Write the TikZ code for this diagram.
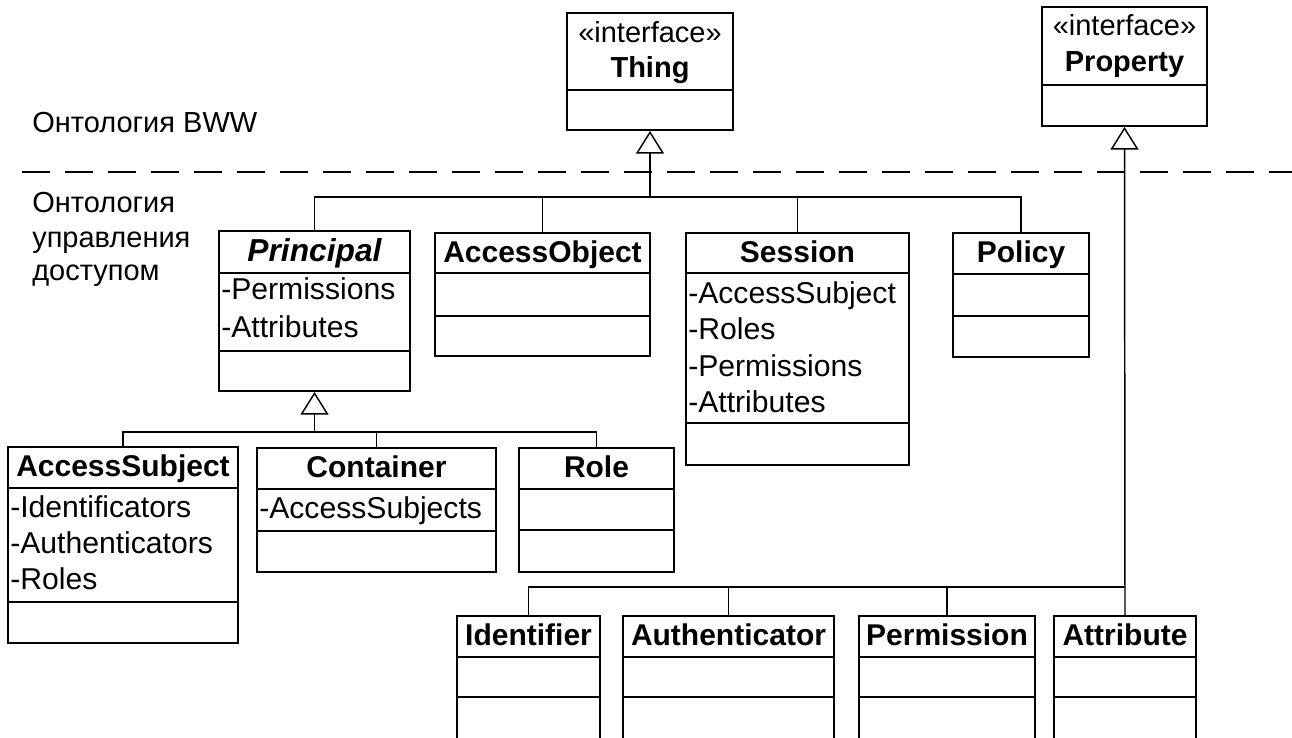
\documentclass[tikz,border=0pt]{standalone}
\usepackage{fontspec}
\setmainfont{Liberation Sans}
\usetikzlibrary{arrows.meta,fit}
\newcommand\umlclass[7]{%
  \node[clsbox, fit={(#2,#3) (#4,#5)}] (#1) {};
  \draw[divline] (#2,#6) -- (#4,#6) (#2,#7) -- (#4,#7);}
\tikzset{
  txt/.style={font=\fontsize{21.75}{26}\selectfont, inner sep=0pt},
  clsbox/.style={draw, line width=1.4pt, inner sep=0pt},
  divline/.style={line width=1.4pt},
  ttl/.style={txt, font=\fontsize{22.5}{27}\selectfont\bfseries, anchor=base},
  attr/.style={txt, font=\fontsize{22.6}{27}\selectfont, anchor=base west},
  lbl/.style={txt, anchor=base west},
  conn/.style={line width=1.1pt},
  gen/.style={conn, -{Triangle[open, length=17pt, width=21pt, line width=1.1pt]}},
  sep/.style={line width=1.1pt, dash pattern=on 21pt off 11.25pt}
}
\begin{document}
\begin{tikzpicture}[x=0.75pt, y=-0.75pt]
\useasboundingbox (0,0) rectangle (1292,738);
\clip (0,0) rectangle (1292,738);

% layer labels and separator
\node[lbl] (l1) at (32,133) {Онтология BWW};
\node[lbl] (l2) at (32,213) {Онтология};
\node[lbl] (l3) at (32,247) {управления};
\node[lbl] (l4) at (32,280) {доступом};
\coordinate (sepA) at (22,172);
\coordinate (sepB) at (1292,172);
\draw[sep] (sepA) -- (sepB);

% interfaces
\umlclass{thing}{567}{13}{733}{130}{90}{90}
\node[txt, anchor=base] (thing-s) at (650,43) {«interface»};
\node[ttl, font=\fontsize{21.75}{26}\selectfont\bfseries] (thing-t) at (650,78) {Thing};
\umlclass{property}{1042}{7}{1207}{126}{85}{85}
\node[txt, anchor=base] (property-s) at (1124.5,36) {«interface»};
\node[ttl, font=\fontsize{21.75}{26}\selectfont\bfseries] (property-t) at (1124.5,72) {Property};

% access control classes
\umlclass{principal}{219}{231}{410}{391}{273}{351}
\node[ttl, font=\fontsize{23.8}{28}\selectfont\bfseries\itshape] (principal-t) at (314.5,261) {Principal};
\node[attr] (principal-a1) at (221,299) {-Permissions};
\node[attr] (principal-a2) at (221,337) {-Attributes};

\umlclass{accessobject}{435}{233}{650}{356}{273}{316}
\node[ttl] (accessobject-t) at (542.5,262) {AccessObject};

\umlclass{session}{686}{233}{909}{465}{273}{423}
\node[ttl] (session-t) at (797.5,262) {Session};
\node[attr] (session-a1) at (688,303) {-AccessSubject};
\node[attr] (session-a2) at (688,339) {-Roles};
\node[attr] (session-a3) at (688,376) {-Permissions};
\node[attr] (session-a4) at (688,412) {-Attributes};

\umlclass{policy}{953}{233}{1089}{357}{274}{316}
\node[ttl] (policy-t) at (1021,262) {Policy};

\umlclass{accesssubject}{8}{447}{238}{643}{488}{602}
\node[ttl] (accesssubject-t) at (123,476) {AccessSubject};
\node[attr] (accesssubject-a1) at (10,517) {-Identificators};
\node[attr] (accesssubject-a2) at (10,553) {-Authenticators};
\node[attr] (accesssubject-a3) at (10,589) {-Roles};

\umlclass{container}{257}{448}{496}{572}{489}{531}
\node[ttl] (container-t) at (376.5,477) {Container};
\node[attr] (container-a1) at (259,518) {-AccessSubjects};

\umlclass{role}{519}{448}{674}{572}{489}{530}
\node[ttl] (role-t) at (596.5,477) {Role};

\umlclass{identifier}{457}{616}{600}{770}{657}{697}
\node[ttl] (identifier-t) at (528.5,645) {Identifier};
\umlclass{authenticator}{623}{616}{834}{770}{657}{697}
\node[ttl] (authenticator-t) at (728.5,645) {Authenticator};
\umlclass{permission}{859}{616}{1035}{770}{657}{697}
\node[ttl] (permission-t) at (947,645) {Permission};
\umlclass{attribute}{1054}{616}{1196}{770}{657}{697}
\node[ttl] (attribute-t) at (1125,645) {Attribute};

% generalizations to Thing
\coordinate (thingbar) at (650,197);
\draw[conn] (principal.north) |- (thingbar);
\draw[conn] (accessobject.north) |- (thingbar);
\draw[conn] (session.north) |- (thingbar);
\draw[conn] (policy.north) |- (thingbar);
\draw[gen] (thingbar) -- (thing.south);

% generalizations to Principal
\coordinate (prbar) at (314.5,432);
\draw[conn] (accesssubject.north) |- (prbar);
\draw[conn] (container.north) |- (prbar);
\draw[conn] (role.north) |- (prbar);
\draw[gen] (prbar) -- (principal.south);

% generalizations to Property
\coordinate (propbar) at (1125,587);
\draw[conn] (identifier.north) |- (propbar);
\draw[conn] (authenticator.north) |- (propbar);
\draw[conn] (permission.north) |- (propbar);
\draw[gen] (attribute.north) -- (property.south);
\end{tikzpicture}
\end{document}
